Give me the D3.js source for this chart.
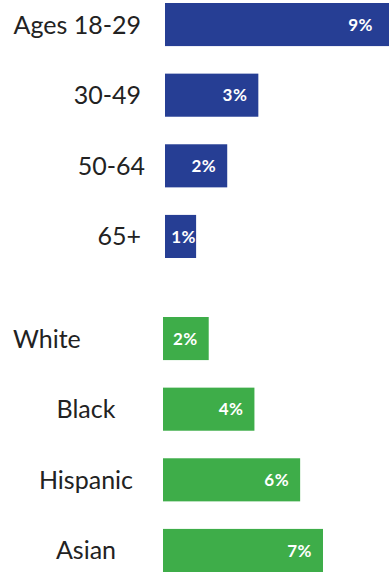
<!DOCTYPE html>
<html>
<head>
<meta charset="utf-8">
<script src="https://cdn.jsdelivr.net/npm/d3@7"></script>
<style>
  body { margin: 0; background: #fff; overflow: hidden; }
</style>
</head>
<body>
<script>
// two groups of bars
const ageLabels = ['Ages 18-29', '30-49', '50-64', '65+']
const ageValues = [9, 3, 2, 1]

const raceLabels = ['White', 'Black', 'Hispanic', 'Asian']
const raceValues = [2, 4, 6, 7]

let svgWidth = 389
let svgHeight = 573

const blue = '#263e94'
const green = '#3ead49'

var svg = d3.select('body')
    .append('svg')
    .attr('width', svgWidth)
    .attr('height', svgHeight)

// the two panels do not share a scale in the original
var xAge = d3.scaleLinear().domain([0, 9]).range([0, 280])
var xRace = d3.scaleLinear().domain([0, 7]).range([0, 160])

var yAge = d3.scaleBand().domain(ageLabels).range([3, 258]).paddingInner(0.39)
var yRace = d3.scaleBand().domain(raceLabels).range([317, 572]).paddingInner(0.39)

function drawGroup(labels, values, x, y, x0, color, labelPos) {
    let rows = labels.map((l, i) => ({ label: l, value: values[i] }))

    let g = svg.append('g')

    g.selectAll('rect')
        .data(rows)
        .enter()
        .append('rect')
        .attr('x', x0)
        .attr('y', d => y(d.label))
        .attr('width', d => x(d.value))
        .attr('height', y.bandwidth())
        .attr('fill', color)

    // value sits near the bar end, but stays on screen and inside short bars
    g.selectAll('.val')
        .data(rows)
        .enter()
        .append('text')
        .attr('class', 'val')
        .attr('x', d => Math.min(svgWidth - 16, Math.max(x0 + x(d.value) - 11, x0 + 31)))
        .attr('y', d => y(d.label) + y.bandwidth() / 2)
        .attr('dy', '0.36em')
        .attr('text-anchor', 'end')
        .style('font-family', 'Lato, sans-serif')
        .style('font-weight', 'bold')
        .style('font-size', '17px')
        .style('letter-spacing', '0.5px')
        .style('fill', '#fff')
        .text(d => d.value + '%')

    g.selectAll('.cat')
        .data(rows)
        .enter()
        .append('text')
        .attr('class', 'cat')
        .attr('x', d => labelPos(d.label).x)
        .attr('y', d => y(d.label) + y.bandwidth() / 2)
        .attr('dy', '0.36em')
        .attr('text-anchor', d => labelPos(d.label).anchor)
        .style('font-family', 'Lato, sans-serif')
        .style('font-size', '25px')
        .style('fill', '#222')
        .text(d => d.label)
}

drawGroup(ageLabels, ageValues, xAge, yAge, 165, blue,
    l => ({ x: l == '50-64' ? 145 : 141, anchor: 'end' }))

// race labels sit loosely centred, White hangs further left
drawGroup(raceLabels, raceValues, xRace, yRace, 163, green,
    l => l == 'White' ? { x: 13, anchor: 'start' } : { x: 86, anchor: 'middle' })
</script>
</body>
</html>
